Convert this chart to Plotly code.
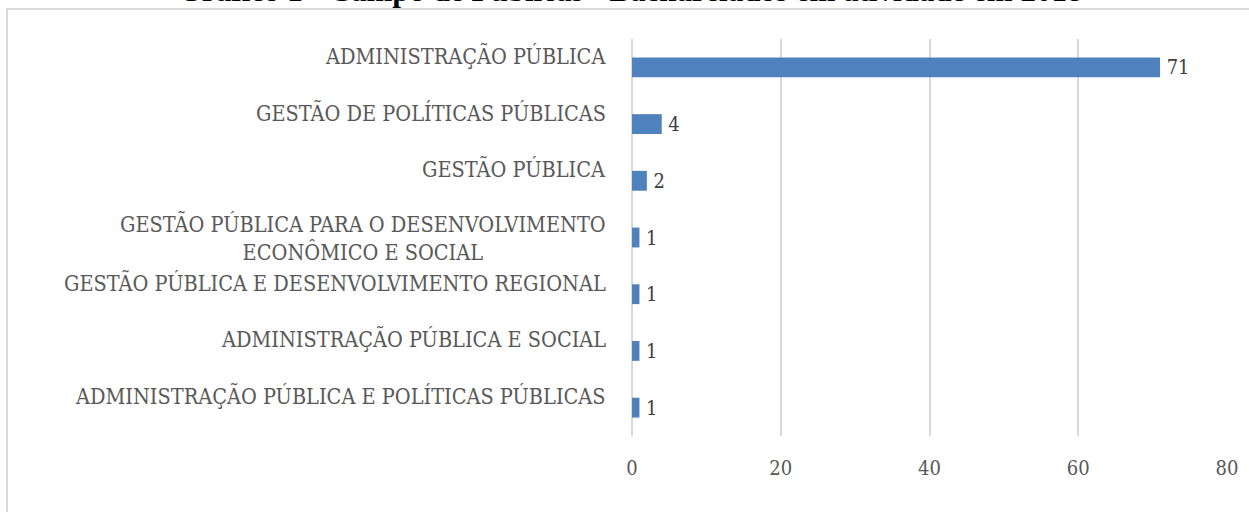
import plotly.graph_objects as go

title = "Gráfico 1 - Campo de Públicas - Bacharelados em atividade em 2018"
categories = [
    "ADMINISTRAÇÃO PÚBLICA",
    "GESTÃO DE POLÍTICAS PÚBLICAS",
    "GESTÃO PÚBLICA",
    "GESTÃO PÚBLICA PARA O DESENVOLVIMENTO<br>ECONÔMICO E SOCIAL",
    "GESTÃO PÚBLICA E DESENVOLVIMENTO REGIONAL",
    "ADMINISTRAÇÃO PÚBLICA E SOCIAL",
    "ADMINISTRAÇÃO PÚBLICA E POLÍTICAS PÚBLICAS",
]
values = [71, 4, 2, 1, 1, 1, 1]
x_ticks = [0, 20, 40, 60, 80]

LABEL_FONT = "DejaVu Serif Condensed"
BAR_COLOR = "#4F81BD"
TEXT_GRAY = "#595959"
GRID = "#D9D9D9"

W, H = 1249, 512
ml, mr, mt, mb = 632, 22, 39, 76
pw, ph = W - ml - mr, H - mt - mb

fig = go.Figure()
fig.add_trace(go.Bar(
    x=values, y=list(range(len(categories))), orientation="h",
    marker=dict(color=BAR_COLOR, line=dict(width=0)),
    width=0.35,
    text=["\u2009" + str(v) for v in values], textposition="outside", constraintext="none",
    textfont=dict(family=LABEL_FONT, size=20, color="#404040"),
    cliponaxis=False, hoverinfo="skip",
))

annotations = []
for i, c in enumerate(categories):
    multiline = "<br>" in c
    annotations.append(dict(
        x=0, xref="paper", y=i, yref="y", text=c, showarrow=False,
        xanchor="right", yanchor="middle", align="center", xshift=-24,
        yshift=0 if multiline else 12,
        font=dict(family=LABEL_FONT, size=21.5, color=TEXT_GRAY),
    ))
annotations.append(dict(
    x=0, xref="paper", y=1, yref="paper", text="<b>" + title + "</b>",
    showarrow=False, xanchor="center", yanchor="bottom",
    xshift=630 - ml, yshift=mt - 10,
    font=dict(family="Liberation Serif", size=31, color="black"),
))

# outer chart border
fig.add_shape(type="rect", xref="paper", yref="paper",
              x0=(7 - ml) / pw, x1=(W + 20 - ml) / pw,
              y0=-(H + 20 - mt - ph) / ph, y1=(H - mb - 9) / ph,
              line=dict(color=GRID, width=2), layer="below")

fig.update_layout(
    width=W, height=H, margin=dict(l=ml, r=mr, t=mt, b=mb),
    paper_bgcolor="white", plot_bgcolor="white", showlegend=False,
    annotations=annotations,
    xaxis=dict(range=[0, 80], tickvals=x_ticks, showgrid=True, gridcolor=GRID, gridwidth=1.5,
               zeroline=True, zerolinecolor=GRID, zerolinewidth=1.5, showline=False, ticks="",
               tickfont=dict(family=LABEL_FONT, size=20, color=TEXT_GRAY), ticklabelstandoff=18),
    yaxis=dict(range=[len(categories) - 0.5, -0.5], showticklabels=False, showgrid=False,
               zeroline=False, showline=False, ticks=""),
)
fig.write_html("out.html")
